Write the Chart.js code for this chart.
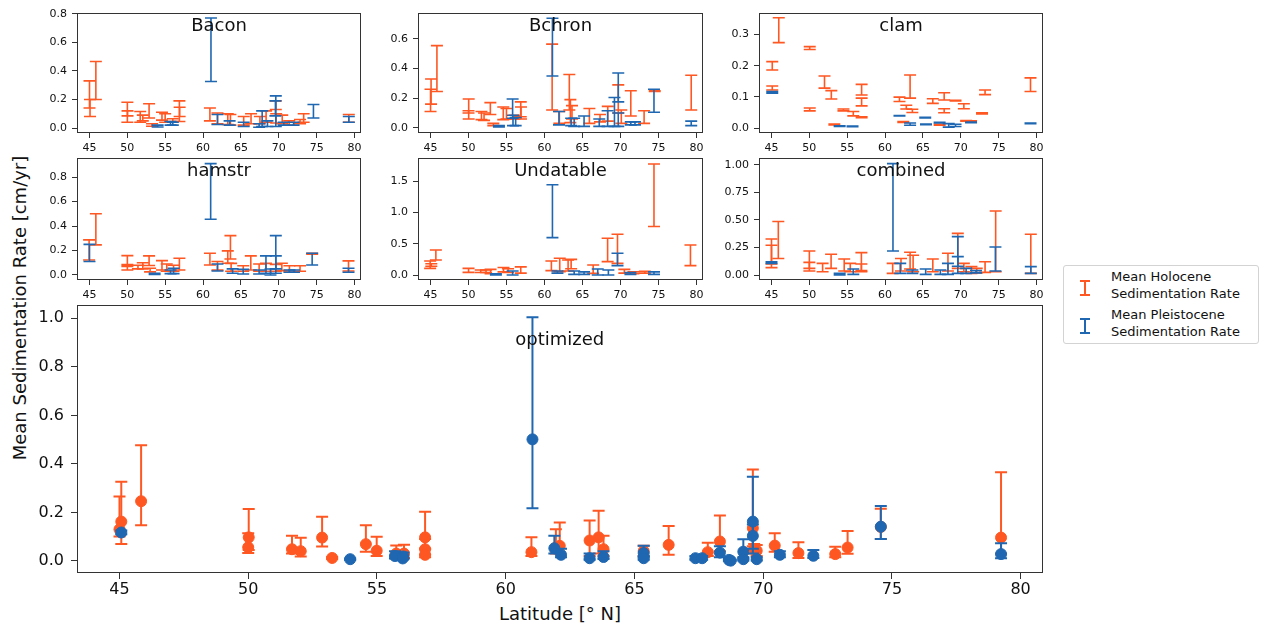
<!DOCTYPE html>
<html lang="en">
<head>
<meta charset="UTF-8">
<title>Mean Sedimentation Rate by Latitude</title>
<script src="https://cdn.jsdelivr.net/npm/chart.js"></script>
<style>
  body { margin: 0; background: #fff; font-family: 'DejaVu Sans', sans-serif; }
  #fig { position: relative; width: 1261px; height: 629px; overflow: hidden; }
  #fig canvas { position: absolute; }
  .axlabel { position: absolute; font-size: 18px; color: #111; white-space: nowrap; transform: translate(-50%, -50%); }
  #ylabel { left: 19px; top: 308px; transform: translate(-50%, -50%) rotate(-90deg); }
  #xlabel { left: 560px; top: 613px; }
  #legend { position: absolute; left: 1063px; top: 265px; width: 194px; height: 77px; border: 1px solid #d3d3d3; border-radius: 3px; }
  #legend .txt { position: absolute; left: 47px; font-size: 13px; line-height: 16.5px; color: #111; white-space: nowrap; }
  #legend svg { position: absolute; left: 15px; }
</style>
</head>
<body>
<div id="fig">
  <div class="axlabel" id="ylabel">Mean Sedimentation Rate [cm/yr]</div>
  <div class="axlabel" id="xlabel">Latitude [° N]</div>
  <div id="legend">
    <svg width="12" height="16" style="top:14px"><path d="M1 1H11M6 1V15M1 15H11" stroke="#ff5722" stroke-width="2" fill="none"/></svg>
    <div class="txt" style="top:3px">Mean Holocene<br>Sedimentation Rate</div>
    <svg width="12" height="16" style="top:52px"><path d="M1 1H11M6 1V15M1 15H11" stroke="#1f67b1" stroke-width="2" fill="none"/></svg>
    <div class="txt" style="top:41px">Mean Pleistocene<br>Sedimentation Rate</div>
  </div>
</div>

<script>
const HOLO = '#ff5722';
const PLEIS = '#1f67b1';

const latTicks = [45, 50, 55, 60, 65, 70, 75, 80];
const latMin = 43.35, latMax = 80.85;

// age-model panels: [latitude, low, high]
const baconHolo = [[45.0, 0.14, 0.33], [45.07, 0.08, 0.20], [45.84, 0.20, 0.465], [50.0, 0.04, 0.18], [50.02, 0.085, 0.12],
  [51.7, 0.04, 0.115], [52.04, 0.05, 0.09], [52.87, 0.07, 0.17], [53.26, 0.012, 0.03], [54.57, 0.055, 0.11], [54.99, 0.04, 0.10],
  [56.0, 0.045, 0.065], [56.87, 0.045, 0.19], [56.9, 0.08, 0.145], [60.9, 0.05, 0.14], [61.9, 0.03, 0.105], [63.26, 0.025, 0.10],
  [63.61, 0.02, 0.095], [65.36, 0.02, 0.08], [66.33, 0.03, 0.10], [67.5, 0.03, 0.08], [68.32, 0.04, 0.12], [69.6, 0.13, 0.19],
  [69.65, 0.035, 0.10], [70.45, 0.03, 0.09], [71.37, 0.02, 0.05], [72.8, 0.03, 0.06], [73.28, 0.04, 0.10], [79.24, 0.04, 0.095]];
const baconPleis = [[54.0, 0.007, 0.02], [55.7, 0.02, 0.045], [56.0, 0.02, 0.04], [61.04, 0.325, 0.77], [61.9, 0.025, 0.095],
  [63.5, 0.02, 0.05], [65.36, 0.01, 0.04], [67.4, 0.005, 0.03], [67.8, 0.01, 0.12], [68.5, 0.01, 0.05], [69.6, 0.01, 0.225],
  [69.55, 0.085, 0.19], [70.65, 0.02, 0.04], [71.95, 0.02, 0.04], [74.57, 0.07, 0.165], [79.24, 0.04, 0.08]];

const bchronHolo = [[45.0, 0.11, 0.26], [45.07, 0.16, 0.33], [45.84, 0.245, 0.555], [50.02, 0.06, 0.195], [50.0, 0.10, 0.115],
  [51.7, 0.055, 0.11], [52.04, 0.05, 0.10], [52.87, 0.09, 0.17], [53.26, 0.015, 0.03], [54.57, 0.055, 0.14], [54.99, 0.06, 0.13],
  [56.05, 0.06, 0.085], [56.87, 0.075, 0.175], [56.9, 0.06, 0.14], [61.0, 0.12, 0.565], [61.95, 0.03, 0.11], [63.26, 0.12, 0.36],
  [63.4, 0.035, 0.19], [63.61, 0.06, 0.15], [65.9, 0.03, 0.13], [67.3, 0.04, 0.09], [68.32, 0.045, 0.145], [69.7, 0.10, 0.29],
  [70.1, 0.03, 0.12], [71.35, 0.08, 0.25], [73.1, 0.03, 0.115], [74.5, 0.245, 0.25], [79.3, 0.12, 0.355]];
const bchronPleis = [[54.0, 0.005, 0.015], [55.8, 0.065, 0.195], [55.85, 0.015, 0.085], [56.2, 0.015, 0.07], [61.04, 0.35, 0.74],
  [61.9, 0.02, 0.11], [63.5, 0.015, 0.065], [63.9, 0.01, 0.065], [65.2, 0.01, 0.08], [67.2, 0.01, 0.06], [68.3, 0.01, 0.115],
  [69.2, 0.01, 0.205], [69.7, 0.175, 0.37], [69.7, 0.01, 0.10], [71.35, 0.02, 0.04], [71.9, 0.02, 0.04], [74.4, 0.105, 0.26],
  [79.3, 0.015, 0.045]];

const clamHolo = [[45.1, 0.186, 0.213], [45.1, 0.122, 0.135], [45.96, 0.274, 0.354], [50.05, 0.252, 0.261], [50.05, 0.055, 0.064],
  [52.0, 0.128, 0.167], [52.9, 0.093, 0.12], [53.3, 0.01, 0.013], [54.5, 0.055, 0.061], [55.8, 0.039, 0.053], [56.9, 0.106, 0.14],
  [56.9, 0.071, 0.096], [56.9, 0.033, 0.036], [61.9, 0.085, 0.099], [62.4, 0.018, 0.021], [62.8, 0.061, 0.073], [63.3, 0.096, 0.17],
  [63.6, 0.05, 0.06], [66.3, 0.079, 0.094], [67.2, 0.009, 0.012], [67.8, 0.09, 0.113], [67.8, 0.049, 0.062], [69.3, 0.087, 0.089],
  [70.4, 0.062, 0.078], [70.7, 0.022, 0.024], [71.35, 0.021, 0.023], [72.8, 0.045, 0.049], [73.2, 0.107, 0.122], [79.2, 0.117, 0.161]];
const clamPleis = [[45.1, 0.112, 0.117], [54.0, 0.005, 0.007], [55.7, 0.004, 0.006], [61.9, 0.039, 0.04], [63.3, 0.009, 0.016],
  [65.3, 0.032, 0.034], [65.4, 0.011, 0.013], [67.2, 0.016, 0.018], [68.4, 0.003, 0.014], [69.3, 0.005, 0.012], [71.35, 0.017, 0.019],
  [79.2, 0.014, 0.016]];

const hamstrHolo = [[44.95, 0.123, 0.287], [45.84, 0.246, 0.50], [50.0, 0.041, 0.158], [50.0, 0.07, 0.085], [51.4, 0.05, 0.08],
  [52.04, 0.05, 0.10], [52.87, 0.077, 0.156], [53.0, 0.025, 0.055], [54.57, 0.041, 0.117], [55.2, 0.03, 0.09], [56.1, 0.03, 0.08],
  [56.87, 0.041, 0.137], [60.9, 0.082, 0.178], [61.9, 0.04, 0.11], [63.26, 0.096, 0.197], [63.61, 0.131, 0.322], [63.7, 0.03, 0.095],
  [65.3, 0.03, 0.076], [66.3, 0.041, 0.156], [67.4, 0.03, 0.09], [68.3, 0.03, 0.095], [69.6, 0.03, 0.087], [70.4, 0.036, 0.096],
  [71.4, 0.033, 0.076], [72.8, 0.03, 0.076], [74.4, 0.17, 0.178], [79.2, 0.033, 0.115]];
const hamstrPleis = [[45.0, 0.11, 0.25], [53.6, 0.005, 0.014], [55.7, 0.011, 0.041], [56.1, 0.011, 0.055], [61.0, 0.456, 0.91],
  [61.9, 0.033, 0.09], [63.9, 0.014, 0.05], [65.3, 0.008, 0.046], [67.4, 0.008, 0.041], [68.3, 0.014, 0.156], [68.9, 0.0, 0.049],
  [69.6, 0.014, 0.322], [69.6, 0.05, 0.156], [71.4, 0.022, 0.041], [72.0, 0.022, 0.041], [74.4, 0.082, 0.178], [79.2, 0.022, 0.055]];

const undatableHolo = [[44.95, 0.107, 0.225], [45.1, 0.14, 0.18], [45.7, 0.24, 0.40], [50.0, 0.043, 0.107], [51.6, 0.04, 0.08],
  [52.3, 0.04, 0.08], [52.9, 0.02, 0.09], [54.6, 0.05, 0.12], [55.2, 0.04, 0.10], [56.87, 0.03, 0.13], [60.9, 0.07, 0.225],
  [62.0, 0.054, 0.268], [63.1, 0.064, 0.24], [63.5, 0.10, 0.25], [66.4, 0.027, 0.16], [68.3, 0.214, 0.59], [69.6, 0.187, 0.653],
  [70.5, 0.03, 0.09], [71.7, 0.02, 0.05], [73.2, 0.03, 0.06], [74.4, 0.777, 1.78], [79.2, 0.15, 0.482]];
const undatablePleis = [[53.6, 0.0, 0.02], [55.8, 0.0, 0.064], [61.04, 0.60, 1.446], [61.7, 0.03, 0.064], [63.9, 0.01, 0.064],
  [65.2, 0.01, 0.05], [67.0, 0.0, 0.096], [68.4, 0.0, 0.08], [69.6, 0.15, 0.348], [71.3, 0.01, 0.04], [74.4, 0.01, 0.05]];

const combinedHolo = [[45.0, 0.067, 0.327], [45.0, 0.10, 0.27], [45.9, 0.15, 0.485], [50.0, 0.036, 0.218], [50.0, 0.06, 0.115],
  [51.75, 0.03, 0.106], [52.87, 0.06, 0.188], [54.6, 0.036, 0.145], [55.4, 0.03, 0.106], [56.87, 0.03, 0.203], [56.87, 0.04, 0.10],
  [61.0, 0.015, 0.106], [62.1, 0.036, 0.15], [63.3, 0.055, 0.206], [63.7, 0.03, 0.18], [66.3, 0.03, 0.145], [68.3, 0.036, 0.197],
  [69.6, 0.06, 0.378], [70.4, 0.03, 0.106], [71.4, 0.015, 0.076], [72.1, 0.02, 0.06], [73.2, 0.024, 0.12], [74.6, 0.03, 0.58],
  [79.24, 0.015, 0.37]];
const combinedPleis = [[45.0, 0.106, 0.12], [54.0, 0.0, 0.015], [55.8, 0.006, 0.055], [61.04, 0.218, 1.01], [62.0, 0.015, 0.106],
  [63.6, 0.015, 0.045], [65.36, 0.006, 0.055], [67.3, 0.006, 0.045], [68.3, 0.006, 0.106], [69.6, 0.015, 0.348], [69.6, 0.08, 0.167],
  [70.7, 0.015, 0.06], [72.0, 0.02, 0.04], [74.57, 0.036, 0.254], [79.24, 0.015, 0.076]];

// optimized model: [latitude, mean, low, high]
const optimizedHolo = [[45.0, 0.13, 0.10, 0.265], [45.07, 0.162, 0.07, 0.326], [45.84, 0.246, 0.147, 0.477],
  [50.02, 0.097, 0.045, 0.214], [50.0, 0.056, 0.032, 0.114], [51.7, 0.048, 0.03, 0.104], [52.04, 0.04, 0.018, 0.095],
  [52.87, 0.096, 0.059, 0.182], [53.26, 0.012, 0.008, 0.016], [54.57, 0.069, 0.038, 0.147], [54.99, 0.042, 0.02, 0.099],
  [55.75, 0.03, 0.015, 0.063], [56.05, 0.03, 0.012, 0.066], [56.87, 0.097, 0.05, 0.203], [56.87, 0.048, 0.025, 0.09],
  [56.87, 0.025, 0.015, 0.05], [61.0, 0.036, 0.02, 0.097], [62.1, 0.062, 0.03, 0.158], [61.95, 0.055, 0.03, 0.13],
  [63.26, 0.084, 0.02, 0.166], [63.61, 0.097, 0.03, 0.207], [63.8, 0.048, 0.02, 0.104], [65.36, 0.04, 0.02, 0.062],
  [66.33, 0.066, 0.025, 0.144], [67.85, 0.036, 0.02, 0.075], [68.32, 0.08, 0.04, 0.187], [69.6, 0.135, 0.06, 0.377],
  [69.65, 0.048, 0.03, 0.07], [69.75, 0.042, 0.02, 0.065], [70.45, 0.063, 0.038, 0.114], [71.37, 0.032, 0.012, 0.077],
  [72.8, 0.028, 0.015, 0.058], [73.28, 0.055, 0.029, 0.123], [74.57, 0.14, 0.09, 0.215], [79.24, 0.096, 0.029, 0.365]];
const optimizedPleis = [[45.07, 0.117, 0.11, 0.125], [53.96, 0.007, 0.004, 0.01], [55.7, 0.02, 0.01, 0.04],
  [56.03, 0.018, 0.008, 0.035], [56.0, 0.01, 0.005, 0.02], [61.04, 0.501, 0.217, 1.005], [61.89, 0.052, 0.03, 0.104],
  [62.15, 0.025, 0.015, 0.05], [63.26, 0.011, 0.005, 0.03], [63.8, 0.016, 0.008, 0.04], [65.36, 0.032, 0.015, 0.062],
  [65.36, 0.011, 0.005, 0.02], [67.37, 0.011, 0.005, 0.02], [67.63, 0.011, 0.005, 0.02], [68.32, 0.034, 0.015, 0.06],
  [68.67, 0.004, 0.001, 0.01], [68.74, 0.001, 0.0, 0.005], [69.23, 0.038, 0.01, 0.089], [69.23, 0.007, 0.002, 0.015],
  [69.6, 0.162, 0.03, 0.347], [69.6, 0.103, 0.05, 0.15], [69.75, 0.007, 0.002, 0.015], [70.65, 0.025, 0.015, 0.04],
  [71.95, 0.021, 0.012, 0.045], [74.57, 0.141, 0.09, 0.226], [79.24, 0.028, 0.011, 0.073]];

function rangeRows(rows) { return rows.map(r => ({ x: r[0], y: r[1], yMin: r[1], yMax: r[2] })); }
function meanRows(rows) { return rows.map(r => ({ x: r[0], y: r[1], yMin: r[2], yMax: r[3] })); }

// vertical error bars with caps, drawn just before each dataset's points
const errorBars = {
  id: 'errorBars',
  beforeDatasetDraw(chart, args, opts) {
    const ds = chart.data.datasets[args.index];
    const xs = chart.scales.x, ys = chart.scales.y, a = chart.chartArea, ctx = chart.ctx;
    ctx.save();
    ctx.beginPath();
    ctx.rect(a.left, a.top, a.right - a.left, a.bottom - a.top);
    ctx.clip();
    ctx.strokeStyle = ds.borderColor;
    ctx.lineWidth = opts.lineWidth;
    ds.data.forEach(d => {
      const px = xs.getPixelForValue(d.x);
      const top = ys.getPixelForValue(d.yMax), bot = ys.getPixelForValue(d.yMin);
      ctx.beginPath();
      ctx.moveTo(px, top); ctx.lineTo(px, bot);
      ctx.moveTo(px - opts.cap, top); ctx.lineTo(px + opts.cap, top);
      ctx.moveTo(px - opts.cap, bot); ctx.lineTo(px + opts.cap, bot);
      ctx.stroke();
    });
    ctx.restore();
  }
};

// box around the plot area plus the in-axes panel name
const frame = {
  id: 'frame',
  afterDatasetsDraw(chart, args, opts) {
    const a = chart.chartArea, ctx = chart.ctx;
    ctx.save();
    ctx.strokeStyle = '#333';
    ctx.lineWidth = 1;
    ctx.strokeRect(Math.round(a.left) + 0.5, Math.round(a.top) + 0.5, Math.round(a.right - a.left) - 1, Math.round(a.bottom - a.top) - 1);
    ctx.fillStyle = '#111';
    ctx.font = '18px "DejaVu Sans"';
    ctx.textAlign = 'center';
    ctx.textBaseline = 'alphabetic';
    ctx.fillText(opts.title, (a.left + a.right) / 2, a.top + opts.titleOffset);
    ctx.restore();
  }
};

const fig = document.getElementById('fig');

function makePanel(p) {
  const W = p.padL + p.w + p.padR, H = p.padT + p.h + p.padB;
  const c = document.createElement('canvas');
  c.width = W; c.height = H;
  c.style.width = W + 'px'; c.style.height = H + 'px';
  c.style.left = (p.l - p.padL) + 'px';
  c.style.top = (p.t - p.padT) + 'px';
  fig.appendChild(c);

  const tickFont = { family: 'DejaVu Sans', size: p.fontSize };
  const grid = { drawOnChartArea: false, drawTicks: true, tickLength: p.tickLen, color: '#333', lineWidth: 1 };

  return new Chart(c, {
    type: 'scatter',
    data: {
      datasets: [
        { label: 'Mean Holocene Sedimentation Rate', data: p.holo, borderColor: HOLO, backgroundColor: HOLO,
          pointRadius: p.radius, pointBorderWidth: p.radius ? 1 : 0, pointHoverRadius: p.radius, order: 2 },
        { label: 'Mean Pleistocene Sedimentation Rate', data: p.pleis, borderColor: PLEIS, backgroundColor: PLEIS,
          pointRadius: p.radius, pointBorderWidth: p.radius ? 1 : 0, pointHoverRadius: p.radius, order: 1 }
      ]
    },
    options: {
      responsive: false,
      animation: false,
      devicePixelRatio: 1,
      layout: { padding: { top: p.padT, right: p.padR, left: 0, bottom: 0 } },
      plugins: {
        legend: { display: false },
        tooltip: { enabled: false },
        errorBars: { cap: p.cap, lineWidth: p.barWidth },
        frame: { title: p.title, titleOffset: p.titleOffset }
      },
      scales: {
        x: {
          type: 'linear', min: latMin, max: latMax,
          afterBuildTicks: s => { s.ticks = latTicks.map(v => ({ value: v })); },
          afterFit: s => { s.height = p.padB; },
          grid: grid, border: { display: false },
          ticks: { font: tickFont, color: '#111', padding: p.xPad, maxRotation: 0, autoSkip: false, callback: v => String(v) }
        },
        y: {
          type: 'linear', min: p.yMin, max: p.yMax,
          afterBuildTicks: s => { s.ticks = p.yTicks.map(v => ({ value: v })); },
          afterFit: s => { s.width = p.padL; },
          grid: grid, border: { display: false },
          ticks: { font: tickFont, color: '#111', padding: p.yPad, autoSkip: false, callback: v => v.toFixed(p.dec) }
        }
      }
    },
    plugins: [errorBars, frame]
  });
}

// padT leaves room for the half-height of the top y tick label
const small = { w: 284, padL: 50, padT: 16, padR: 6, padB: 24, fontSize: 11, tickLen: 5, xPad: 4, yPad: 5,
  radius: 0, cap: 6, barWidth: 1.6, titleOffset: 18 };

makePanel(Object.assign({}, small, { title: 'Bacon', l: 77, t: 13, h: 120, yMin: -0.035, yMax: 0.805,
  yTicks: [0, 0.2, 0.4, 0.6, 0.8], dec: 1, holo: rangeRows(baconHolo), pleis: rangeRows(baconPleis) }));
makePanel(Object.assign({}, small, { title: 'Bchron', l: 418, w: 285, t: 13, h: 120, yMin: -0.035, yMax: 0.775,
  yTicks: [0, 0.2, 0.4, 0.6], dec: 1, holo: rangeRows(bchronHolo), pleis: rangeRows(bchronPleis) }));
makePanel(Object.assign({}, small, { title: 'clam', l: 759, t: 13, h: 120, yMin: -0.016, yMax: 0.369,
  yTicks: [0, 0.1, 0.2, 0.3], dec: 1, holo: rangeRows(clamHolo), pleis: rangeRows(clamPleis) }));
makePanel(Object.assign({}, small, { title: 'hamstr', l: 77, t: 158, h: 122, yMin: -0.041, yMax: 0.956,
  yTicks: [0, 0.2, 0.4, 0.6, 0.8], dec: 1, holo: rangeRows(hamstrHolo), pleis: rangeRows(hamstrPleis) }));
makePanel(Object.assign({}, small, { title: 'Undatable', l: 418, w: 285, t: 158, h: 122, yMin: -0.08, yMax: 1.876,
  yTicks: [0, 0.5, 1.0, 1.5], dec: 1, holo: rangeRows(undatableHolo), pleis: rangeRows(undatablePleis) }));
makePanel(Object.assign({}, small, { title: 'combined', l: 759, t: 158, h: 122, yMin: -0.045, yMax: 1.061,
  yTicks: [0, 0.25, 0.5, 0.75, 1.0], dec: 2, holo: rangeRows(combinedHolo), pleis: rangeRows(combinedPleis) }));

makePanel({ title: 'optimized', l: 77, t: 305, w: 966, h: 268, padL: 75, padT: 24, padR: 6, padB: 30,
  fontSize: 16, tickLen: 6, xPad: 1, yPad: 7, radius: 5.5, cap: 6, barWidth: 2, titleOffset: 40,
  yMin: -0.05, yMax: 1.055, yTicks: [0, 0.2, 0.4, 0.6, 0.8, 1.0], dec: 1,
  holo: meanRows(optimizedHolo), pleis: meanRows(optimizedPleis) });
</script>
</body>
</html>
